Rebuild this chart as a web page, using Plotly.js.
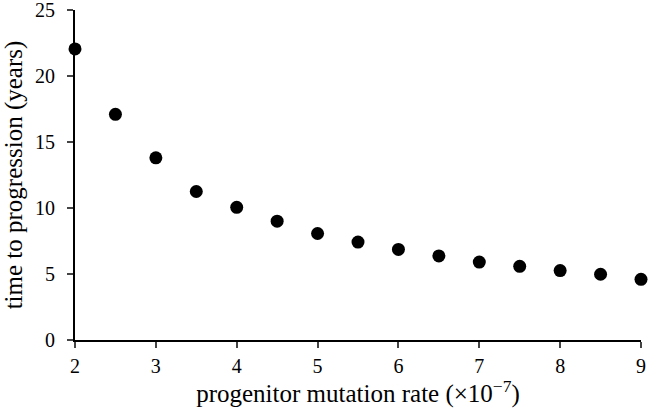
<!DOCTYPE html>
<html><head><meta charset="utf-8">
<script src="https://cdn.plot.ly/plotly-3.0.1.min.js"></script>
<style>body{margin:0;padding:0;background:#fff}#chart{width:649px;height:408px}</style>
</head><body><div id="chart"></div>
<script>
var mutationRate = [2, 2.5, 3, 3.5, 4, 4.5, 5, 5.5, 6, 6.5, 7, 7.5, 8, 8.5, 9];
var timeToProgression = [22.05, 17.1, 13.8, 11.25, 10.05, 9.0, 8.07, 7.42, 6.86, 6.37, 5.9, 5.58, 5.26, 4.98, 4.6];
var xTicks = [2, 3, 4, 5, 6, 7, 8, 9];
var yTicks = [0, 5, 10, 15, 20, 25];

var tickFont = {family: '"Liberation Serif", "Times New Roman", serif', size: 20, color: '#000'};
var titleFont = {family: '"Liberation Serif", "Times New Roman", serif', size: 25, color: '#000'};
Plotly.newPlot('chart', [{
  x: mutationRate, y: timeToProgression, type: 'scatter', mode: 'markers',
  marker: {color: '#000', size: 13}, cliponaxis: false
}], {
  width: 649, height: 408,
  margin: {l: 75, r: 8, t: 10, b: 68},
  paper_bgcolor: '#fff', plot_bgcolor: '#fff',
  font: tickFont, showlegend: false,
  xaxis: {range: [2, 9], tickvals: xTicks, ticks: 'outside', ticklen: 6, tickwidth: 2,
    showline: true, linewidth: 2, linecolor: '#000', showgrid: false, zeroline: false,
    ticklabelstandoff: 1, ticklabeloverflow: 'allow',
    tickfont: tickFont, title: {text: 'progenitor mutation rate (×10<sup>−7</sup>)', font: titleFont, standoff: 0}},
  yaxis: {range: [0, 25], tickvals: yTicks, ticks: 'outside', ticklen: 6, tickwidth: 2,
    showline: true, linewidth: 2, linecolor: '#000', showgrid: false, zeroline: false,
    ticklabelstandoff: 8, ticklabeloverflow: 'allow',
    tickfont: tickFont, title: {text: 'time to progression (years)', font: titleFont, standoff: 18}}
}, {staticPlot: true});
</script></body></html>
